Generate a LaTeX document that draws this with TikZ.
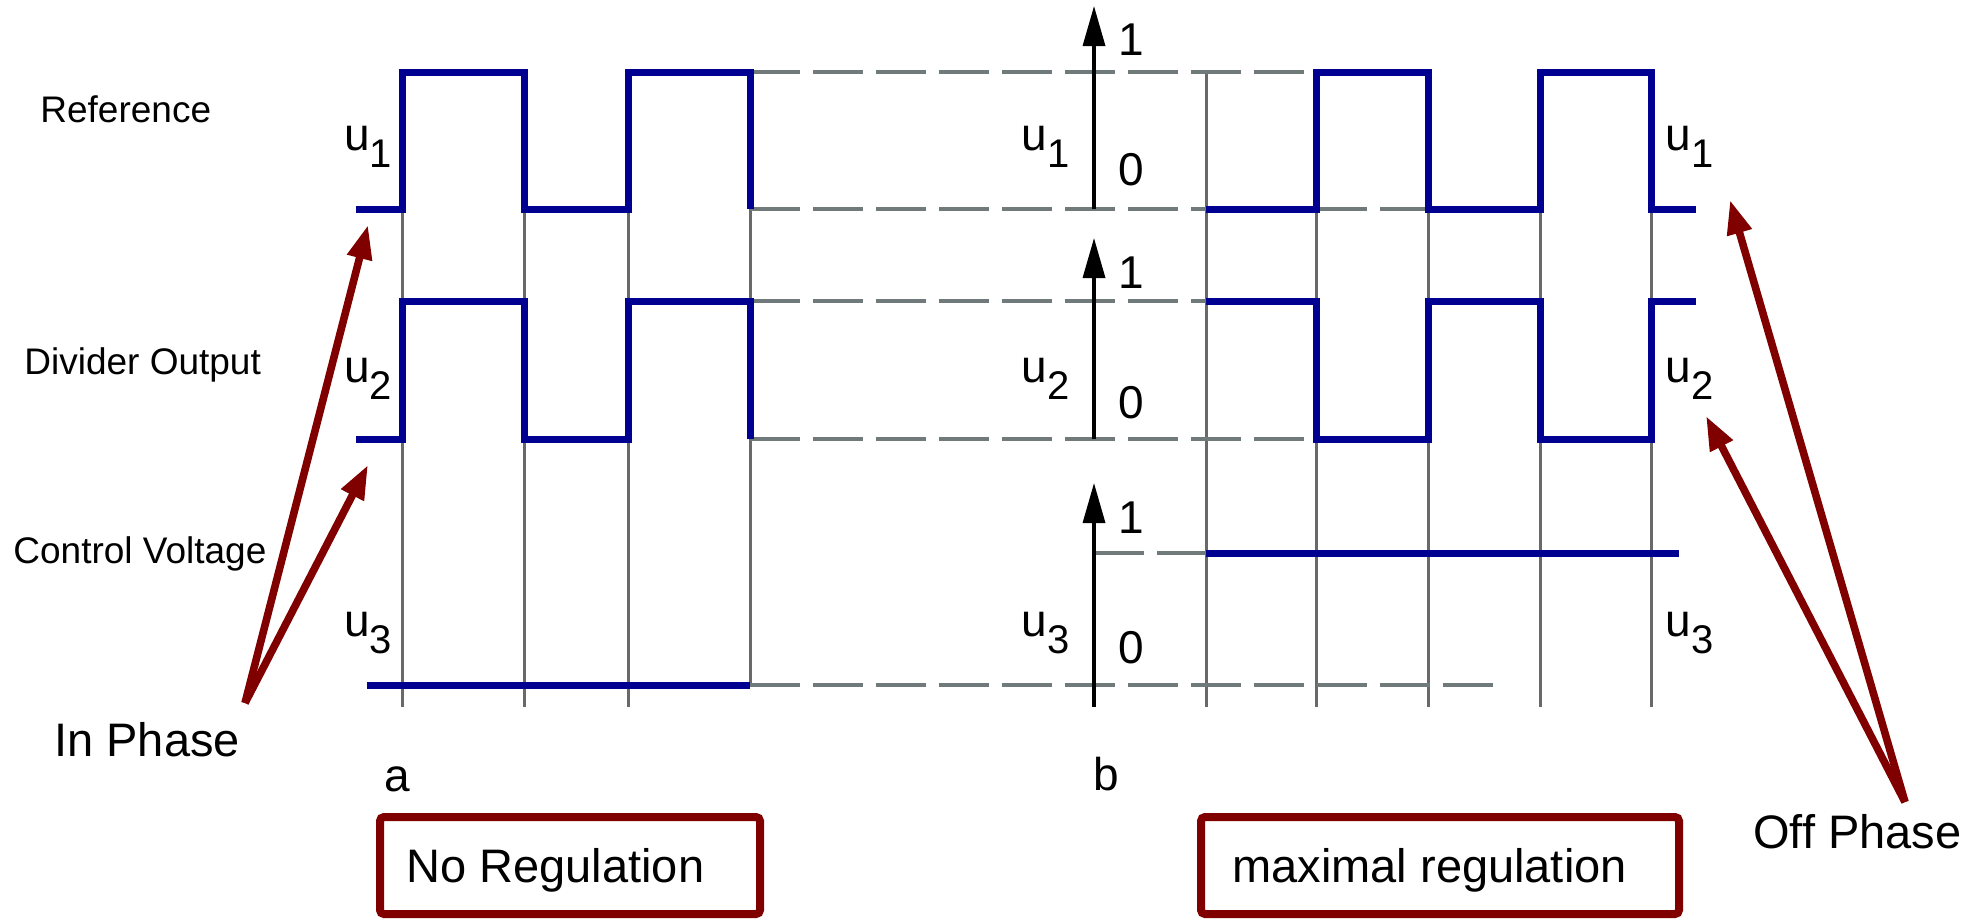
\documentclass[tikz,border=0pt]{standalone}
\usepackage{fontspec}
\setmainfont{Liberation Sans}
\usetikzlibrary{arrows.meta}
\definecolor{wavecol}{RGB}{0,0,145}
\definecolor{darkred}{RGB}{128,0,0}
\definecolor{gridcol}{RGB}{105,105,105}
\definecolor{dashcol}{RGB}{112,122,122}
\newcommand{\usub}[1]{u\raisebox{-8.5pt}{\fontsize{20}{20}\selectfont #1}}
\begin{document}
\begin{tikzpicture}[x=0.5pt,y=-0.5pt,
  wave/.style={draw=wavecol, line width=3.5pt, miter limit=10},
  gridline/.style={draw=gridcol, line width=1.5pt},
  dashline/.style={draw=dashcol, line width=1.6pt, dash pattern=on 25pt off 6.5pt},
  axisarrow/.style={draw=black, line width=1.7pt, -{Triangle[length=20pt,width=11pt]}},
  redarrow/.style={draw=darkred, line width=3.8pt, -{Triangle[length=17pt,width=12pt]}},
  redbox/.style={draw=darkred, line width=4pt, rounded corners=2pt},
  lab/.style={font=\fontsize{18.5}{20}\selectfont, anchor=base west, inner sep=0pt},
  big/.style={font=\fontsize{23.5}{25}\selectfont, anchor=base west, inner sep=0pt},
  ulab/.style={font=\fontsize{23}{24}\selectfont, anchor=base west, inner sep=0pt},
  ]
\useasboundingbox (0,0) rectangle (1984,918);

% grid verticals
\foreach \x in {402,524,628,1206,1316,1428,1540,1651}
  \draw[gridline] (\x,72) -- (\x,707);
\draw[gridline] (750,72) -- (750,685);

% dashed levels
\draw[dashline] (750,72) -- (1316,72);
\draw[dashline] (750,209) -- (1428,209);
\draw[dashline] (750,301) -- (1206,301);
\draw[dashline] (750,439) -- (1316,439);
\draw[dashline] (750,685) -- (1494,685);
\draw[dashline] (1094,553) -- (1206,553);

% axes
\coordinate (a1b) at (1094,209); \coordinate (a1t) at (1094,6);
\coordinate (a2b) at (1094,439); \coordinate (a2t) at (1094,238);
\coordinate (a3b) at (1094,707); \coordinate (a3t) at (1094,483);
\draw[axisarrow] (a1b) -- (a1t);
\draw[axisarrow] (a2b) -- (a2t);
\draw[axisarrow] (a3b) -- (a3t);

% waves, left (in phase)
\draw[wave] (356,209) -- (402,209) -- (402,72) -- (524,72) -- (524,209) -- (628,209) -- (628,72) -- (750,72) -- (750,209);
\draw[wave] (356,439) -- (402,439) -- (402,301) -- (524,301) -- (524,439) -- (628,439) -- (628,301) -- (750,301) -- (750,439);
\draw[wave] (367,685) -- (750,685);

% waves, right (off phase)
\draw[wave] (1206,209) -- (1316,209) -- (1316,72) -- (1428,72) -- (1428,209) -- (1540,209) -- (1540,72) -- (1651,72) -- (1651,209) -- (1696,209);
\draw[wave] (1206,301) -- (1316,301) -- (1316,439) -- (1428,439) -- (1428,301) -- (1540,301) -- (1540,439) -- (1651,439) -- (1651,301) -- (1696,301);
\draw[wave] (1206,553) -- (1679,553);

% u labels
\node[ulab] (lu1) at (344,150) {\usub{1}};
\node[ulab] (lu2) at (344,382) {\usub{2}};
\node[ulab] (lu3) at (344,636) {\usub{3}};
\node[ulab] (bu1) at (1021,150) {\usub{1}};
\node[ulab] (bu2) at (1021,382) {\usub{2}};
\node[ulab] (bu3) at (1021,636) {\usub{3}};
\node[ulab] (ru1) at (1665,150) {\usub{1}};
\node[ulab] (ru2) at (1665,382) {\usub{2}};
\node[ulab] (ru3) at (1665,636) {\usub{3}};

% level digits
\node[ulab] (one1) at (1118,55) {1};
\node[ulab] (zero1) at (1118,185) {0};
\node[ulab] (one2) at (1118,288) {1};
\node[ulab] (zero2) at (1118,418) {0};
\node[ulab] (one3) at (1118,533) {1};
\node[ulab] (zero3) at (1118,663) {0};

\node[ulab] (la) at (384,791) {a};
\node[ulab] (lb) at (1093,790) {b};

% side labels
\node[lab] (ref) at (40,122) {Reference};
\node[lab] (div) at (24,374) {Divider Output};
\node[lab] (ctl) at (13,563) {Control Voltage};

% boxes
\draw[redbox] (380,817) rectangle (760,914);
\draw[redbox] (1201,817) rectangle (1679,914);
\node[big] (noreg) at (406,882) {No Regulation};
\node[big] (maxreg) at (1232,882) {maximal regulation};

% phase annotations
\node[big] (inph) at (54,756) {In Phase};
\node[big] (offph) at (1753,848) {Off Phase};
\coordinate (ipt) at (245,703);
\coordinate (ip1) at (368,225);
\coordinate (ip2) at (368,465);
\draw[redarrow] (ipt) -- (ip1);
\draw[redarrow] (ipt) -- (ip2);
\coordinate (opt) at (1905,802);
\coordinate (op1) at (1730,200);
\coordinate (op2) at (1706,416);
\draw[redarrow] (opt) -- (op1);
\draw[redarrow] (opt) -- (op2);
\end{tikzpicture}
\end{document}
